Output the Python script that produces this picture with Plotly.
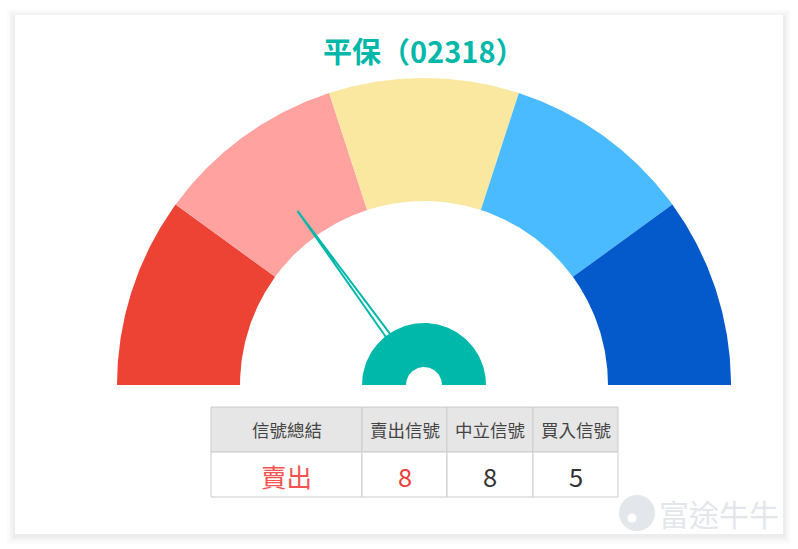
import numpy as np
import plotly.graph_objects as go

# ---- data ----
title_text = "平保（02318）"
sector_colors = ["#EC4335", "#FFA2A0", "#FAE8A0", "#4ABBFF", "#0459CB"]
needle_value = 0.30          # fraction of the dial, from left (0) to right (1)
header_labels = ["信號總結", "賣出信號", "中立信號", "買入信號"]
summary_label = "賣出"
sell_signals = 8
neutral_signals = 8
buy_signals = 5
row_values = [summary_label, str(sell_signals), str(neutral_signals), str(buy_signals)]
row_colors = ["#F5534F", "#F03C3C", "#333333", "#333333"]
watermark_text = "富途牛牛"

# ---- geometry (pixel units) ----
W, H = 798, 549
cx, cy = 424, 385
r_out, r_in = 307, 184
hub_out, hub_in = 62, 18
needle_len = 215
teal = "#00B8A9"
col_edges = [211, 362, 447, 533, 618]
row_edges = [407, 452, 497]

fig = go.Figure()

def arc(r, a0, a1, n=90):
    t = np.radians(np.linspace(a0, a1, n))
    return cx + r * np.cos(t), cy - r * np.sin(t)

n = len(sector_colors)
step = 180 / n
for i, col in enumerate(sector_colors):
    a0 = 180 - i * step
    a1 = a0 - step
    xo, yo = arc(r_out, a0, a1)
    xi, yi = arc(r_in, a1, a0)
    fig.add_trace(go.Scatter(x=np.r_[xo, xi, xo[0]], y=np.r_[yo, yi, yo[0]],
                             fill="toself", fillcolor=col, mode="lines",
                             line=dict(width=0, color=col), hoverinfo="skip",
                             showlegend=False))

# needle (two converging lines ending at the hub edge)
ang = np.radians(180 - needle_value * 180)
ux, uy = np.cos(ang), -np.sin(ang)
px, py = -uy, ux
tipx, tipy = cx + needle_len * ux, cy + needle_len * uy
bx, by = cx + (hub_out - 2) * ux, cy + (hub_out - 2) * uy
hw = 2.6
fig.add_trace(go.Scatter(x=[bx + hw * px, tipx, bx - hw * px],
                         y=[by + hw * py, tipy, by - hw * py],
                         mode="lines", line=dict(color=teal, width=2),
                         hoverinfo="skip", showlegend=False))

# hub
xo, yo = arc(hub_out, 180, 0)
xi, yi = arc(hub_in, 0, 180)
fig.add_trace(go.Scatter(x=np.r_[xo, xi, xo[0]], y=np.r_[yo, yi, yo[0]],
                         fill="toself", fillcolor=teal, mode="lines",
                         line=dict(width=0, color=teal), hoverinfo="skip",
                         showlegend=False))

# watermark logo
fig.add_trace(go.Scatter(x=[637], y=[513], mode="markers",
                         marker=dict(size=36, color="#E3E7EB"),
                         hoverinfo="skip", showlegend=False))
fig.add_trace(go.Scatter(x=[632], y=[518], mode="markers",
                         marker=dict(size=9, color="white"),
                         hoverinfo="skip", showlegend=False))

shapes = []
# card with soft shadow
for k, op in [(8, 0.012), (6, 0.016), (4, 0.02), (2, 0.025)]:
    shapes.append(dict(type="rect", xref="x", yref="y", layer="below",
                       x0=15 - k, x1=783 + k, y0=15 - k + 2, y1=534 + k + 2,
                       fillcolor=f"rgba(0,0,0,{op})", line=dict(width=0)))
shapes.append(dict(type="rect", xref="x", yref="y", layer="below",
                   x0=15, x1=783, y0=15, y1=534,
                   fillcolor="white", line=dict(width=0)))

annotations = [
    dict(x=cx, y=50, xref="x", yref="y", text=f"<b>{title_text}</b>",
         showarrow=False, font=dict(family="Noto Sans CJK SC", size=29, color=teal)),
    dict(x=719, y=513, xref="x", yref="y", text=watermark_text, showarrow=False,
         font=dict(family="Noto Sans CJK TC", size=30, color="#E3E7EB")),
]

# table grid and text
for j in range(len(header_labels)):
    x0, x1 = col_edges[j], col_edges[j + 1]
    shapes.append(dict(type="rect", xref="x", yref="y", x0=x0, x1=x1,
                       y0=row_edges[0], y1=row_edges[1], fillcolor="#E6E6E6",
                       line=dict(color="#CCCCCC", width=1), layer="above"))
    shapes.append(dict(type="rect", xref="x", yref="y", x0=x0, x1=x1,
                       y0=row_edges[1], y1=row_edges[2], fillcolor="white",
                       line=dict(color="#CCCCCC", width=1), layer="above"))
    xm = (x0 + x1) / 2
    annotations.append(dict(x=xm, y=(row_edges[0] + row_edges[1]) / 2, xref="x", yref="y",
                            text=header_labels[j], showarrow=False,
                            font=dict(family="Noto Sans CJK TC", size=17.5, color="#444444")))
    annotations.append(dict(x=xm, y=(row_edges[1] + row_edges[2]) / 2 + 1, xref="x", yref="y",
                            text=row_values[j], showarrow=False,
                            font=dict(family="Noto Sans CJK TC", size=25.5, color=row_colors[j])))

fig.update_layout(
    width=W, height=H,
    margin=dict(l=0, r=0, t=0, b=0),
    paper_bgcolor="white", plot_bgcolor="rgba(0,0,0,0)",
    xaxis=dict(range=[0, W], visible=False, fixedrange=True),
    yaxis=dict(range=[H, 0], visible=False, fixedrange=True),
    shapes=shapes,
    annotations=annotations,
    showlegend=False,
)

fig.write_html("out.html", config={"displayModeBar": False},
               post_script="document.body.style.margin='0';document.body.style.overflow='hidden';")
